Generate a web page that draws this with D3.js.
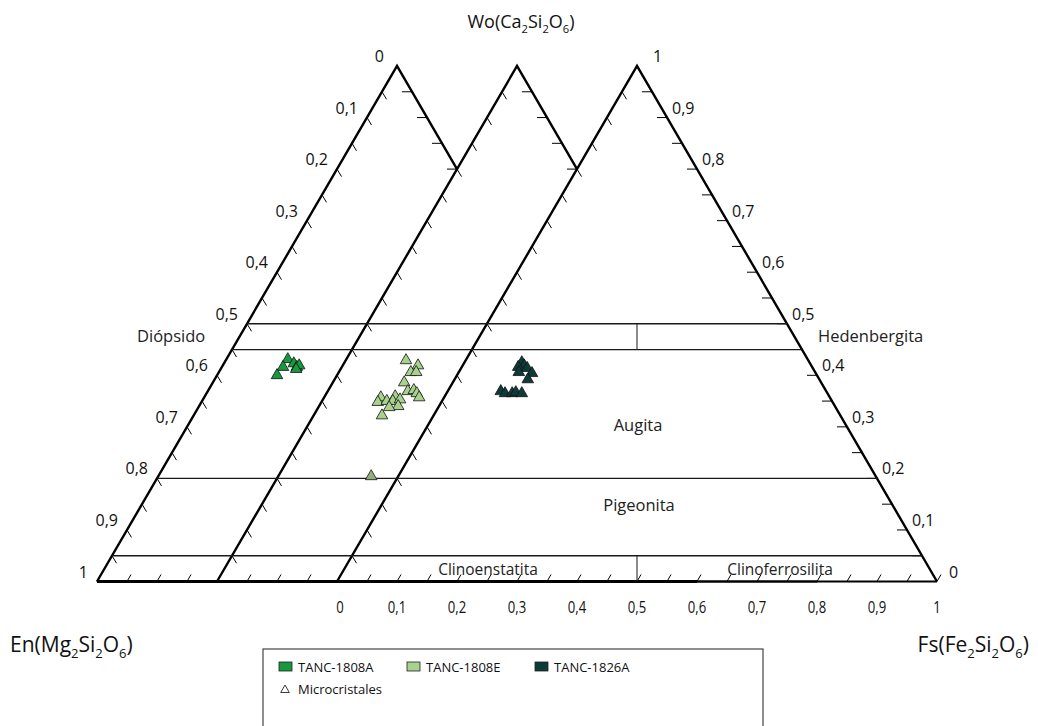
<!DOCTYPE html>
<html>
<head>
<meta charset="utf-8">
<script src="https://cdn.jsdelivr.net/npm/d3@7"></script>
<style>
  body { margin: 0; background: #fff; }
  svg { display: block; font-family: "Open Sans", sans-serif; }
</style>
</head>
<body>
<svg id="chart" width="1038" height="726"></svg>
<script>
    // tick values and labels (same on the three axes)
    var tickValues = [0, 0.1, 0.2, 0.3, 0.4, 0.5, 0.6, 0.7, 0.8, 0.9, 1];
    var tickLabels = ["0", "0,1", "0,2", "0,3", "0,4", "0,5", "0,6", "0,7", "0,8", "0,9", "1"];

    // Wo levels of the field boundaries
    var woBounds = [0.5, 0.45, 0.2, 0.05];

    // samples: position read on the bottom axis, and Wo
    var seriesNames = ["TANC-1808A", "TANC-1808E", "TANC-1826A"];
    var seriesColors = ["#17993f", "#a8d18d", "#0e3b38"];

    var a1808X  = [-0.082, -0.090, -0.072, -0.067, -0.063, -0.100, -0.068];
    var a1808Wo = [0.431, 0.416, 0.423, 0.416, 0.419, 0.400, 0.412];

    var e1808X  = [0.115, 0.135, 0.123, 0.132, 0.112, 0.118, 0.128, 0.133, 0.137,
                   0.073, 0.068, 0.083, 0.097, 0.093, 0.105, 0.102, 0.087, 0.075];
    var e1808Wo = [0.429, 0.419, 0.406, 0.406, 0.386, 0.369, 0.371, 0.365, 0.357,
                   0.357, 0.348, 0.350, 0.359, 0.350, 0.353, 0.340, 0.338, 0.322];

    var a1826X  = [0.308, 0.312, 0.302, 0.317, 0.303, 0.325, 0.318, 0.273, 0.280, 0.292, 0.298, 0.308];
    var a1826Wo = [0.425, 0.419, 0.416, 0.414, 0.406, 0.404, 0.392, 0.369, 0.365, 0.365, 0.367, 0.365];

    var microX  = [0.057];
    var microWo = [0.204];

    var svg = d3.select("#chart");

    var x = d3.scaleLinear().domain([0, 1]).range([337, 937]);
    var y = d3.scaleLinear().domain([0, 1]).range([581.5, 66]);

    // the three triangles, shifted along the base
    var triShift = [-0.4, -0.2, 0];
    var rightStop = [0.8, 0.8, 0];

    function leftPt(u0, wo) { return [x(u0 + wo / 2), y(wo)]; }
    function rightPt(u0, wo) { return [x(u0 + 1 - wo / 2), y(wo)]; }

    var line = d3.line();
    var frame = svg.append("g");
    var ticks = svg.append("g").attr("stroke", "#000").attr("stroke-width", 1);

    var woSteps = d3.range(1, 20).map(function(k) { return k * 0.05; });

    triShift.forEach(function(u0, i) {
        frame.append("path")
            .attr("d", line([leftPt(u0, 0), leftPt(u0, 1), rightPt(u0, rightStop[i])]))
            .attr("fill", "none").attr("stroke", "#000").attr("stroke-width", 2.4)
            .attr("stroke-linejoin", "miter");
        frame.append("path")
            .attr("d", line([leftPt(u0, 0), rightPt(u0, 0)]))
            .attr("stroke", "#000").attr("stroke-width", i == 0 ? 2.8 : 2.2);

        // ticks on the left edges
        woSteps.forEach(function(w) {
            var p = leftPt(u0, w);
            ticks.append("line").attr("x1", p[0]).attr("y1", p[1])
                .attr("x2", p[0] + 4.5).attr("y2", p[1] + 7.5);
        });
        // ticks on the right edges
        woSteps.filter(function(w) { return w >= rightStop[i] - 1e-9; }).forEach(function(w) {
            var p = rightPt(u0, w);
            ticks.append("line").attr("x1", p[0]).attr("y1", p[1])
                .attr("x2", p[0] - 10).attr("y2", p[1]);
        });
    });

    // ticks along the base
    d3.range(0, 29).forEach(function(k) {
        var u = -0.4 + k * 0.05;
        ticks.append("line").attr("x1", x(u)).attr("y1", y(0))
            .attr("x2", x(u) + 4).attr("y2", y(0) - 7);
    });

    // field boundaries
    var bounds = svg.append("g").attr("stroke", "#1a1a1a").attr("stroke-width", 1.3);
    woBounds.forEach(function(w) {
        bounds.append("line")
            .attr("x1", leftPt(-0.4, w)[0]).attr("x2", rightPt(0, w)[0])
            .attr("y1", y(w)).attr("y2", y(w));
    });
    bounds.append("line").attr("x1", x(0.5)).attr("x2", x(0.5)).attr("y1", y(0.5)).attr("y2", y(0.45))
        .attr("stroke-width", 1);
    bounds.append("line").attr("x1", x(0.5)).attr("x2", x(0.5)).attr("y1", y(0.05)).attr("y2", y(0))
        .attr("stroke-width", 1);

    // tick labels
    var lab = svg.append("g").attr("font-size", 16).attr("fill", "#111");
    tickValues.forEach(function(v, i) {
        var pl = leftPt(-0.4, 1 - v);
        lab.append("text").attr("x", pl[0] - (i == 0 ? 13 : 9)).attr("y", pl[1] - 4)
            .attr("text-anchor", "end").text(tickLabels[i]);
        var pr = rightPt(0, v);
        var dx = i == 10 ? 16 : (i == 0 ? 12 : 5);
        lab.append("text").attr("x", pr[0] + dx).attr("y", pr[1] - 4)
            .attr("text-anchor", "start").text(tickLabels[i]);
        lab.append("text")
            .attr("transform", "translate(" + (x(v) + (i == 0 ? 3 : 0)) + ",613) scale(0.82,1)")
            .attr("text-anchor", "middle").attr("font-size", 16).text(tickLabels[i]);
    });

    // field names
    var fields = svg.append("g").attr("font-size", 16.5).attr("fill", "#222");
    fields.append("text").attr("x", 137).attr("y", 342).text("Diópsido");
    fields.append("text").attr("x", 818).attr("y", 342).text("Hedenbergita");
    fields.append("text").attr("x", 638).attr("y", 431).attr("text-anchor", "middle").text("Augita");
    fields.append("text").attr("x", 639).attr("y", 511).attr("text-anchor", "middle").text("Pigeonita");
    fields.append("text").attr("x", 488).attr("y", 575).attr("text-anchor", "middle").attr("font-size", 15.5).text("Clinoenstatita");
    fields.append("text").attr("x", 780).attr("y", 575).attr("text-anchor", "middle").attr("font-size", 15.5).text("Clinoferrosilita");

    // end-member names with subscripts
    function formula(g, parts, size) {
        var t = g.append("text").attr("font-size", size).attr("fill", "#111");
        var shift = 0;
        parts.forEach(function(p) {
            if (typeof p === "string") {
                t.append("tspan").attr("dy", -shift).text(p);
                shift = 0;
            } else {
                t.append("tspan").attr("font-size", size * 0.62).attr("dy", size * 0.3).text(p[0]);
                shift = size * 0.3;
            }
        });
        return t;
    }
    formula(svg, ["Wo(Ca", ["2"], "Si", ["2"], "O", ["6"], ")"], 18)
        .attr("x", 521).attr("y", 28).attr("text-anchor", "middle");
    formula(svg, ["En(Mg", ["2"], "Si", ["2"], "O", ["6"], ")"], 21)
        .attr("x", 10).attr("y", 652);
    formula(svg, ["Fs(Fe", ["2"], "Si", ["2"], "O", ["6"], ")"], 21)
        .attr("x", 1029).attr("y", 652).attr("text-anchor", "end");

    // points
    var tri = d3.symbol().type(d3.symbolTriangle).size(58);
    var series = [
        { xs: a1808X, wos: a1808Wo, color: seriesColors[0] },
        { xs: e1808X, wos: e1808Wo, color: seriesColors[1] },
        { xs: a1826X, wos: a1826Wo, color: seriesColors[2] },
        { xs: microX, wos: microWo, color: "#8fb07b" }
    ];
    series.forEach(function(s) {
        svg.append("g").selectAll("path")
            .data(s.xs)
            .enter()
            .append("path")
            .attr("d", tri)
            .attr("transform", function(d, i) { return "translate(" + x(d) + "," + y(s.wos[i]) + ")"; })
            .attr("fill", s.color)
            .attr("stroke", "#111")
            .attr("stroke-width", 0.8);
    });

    // legend
    var leg = svg.append("g");
    leg.append("rect").attr("x", 263).attr("y", 649).attr("width", 500).attr("height", 90)
        .attr("fill", "#fff").attr("stroke", "#444").attr("stroke-width", 1.2);
    seriesNames.forEach(function(n, i) {
        var lx = 279 + i * 128;
        leg.append("rect").attr("x", lx).attr("y", 662).attr("width", 13).attr("height", 9)
            .attr("fill", seriesColors[i]).attr("stroke", "#222").attr("stroke-width", 0.8);
        leg.append("text").attr("x", lx + 19).attr("y", 672).attr("font-size", 13)
            .attr("fill", "#111").text(n);
    });
    leg.append("path").attr("d", d3.symbol().type(d3.symbolTriangle).size(32))
        .attr("transform", "translate(285,690)").attr("fill", "#fff")
        .attr("stroke", "#222").attr("stroke-width", 0.9);
    leg.append("text").attr("x", 298).attr("y", 694).attr("font-size", 13)
        .attr("fill", "#111").text("Microcristales");
</script>
</body>
</html>
